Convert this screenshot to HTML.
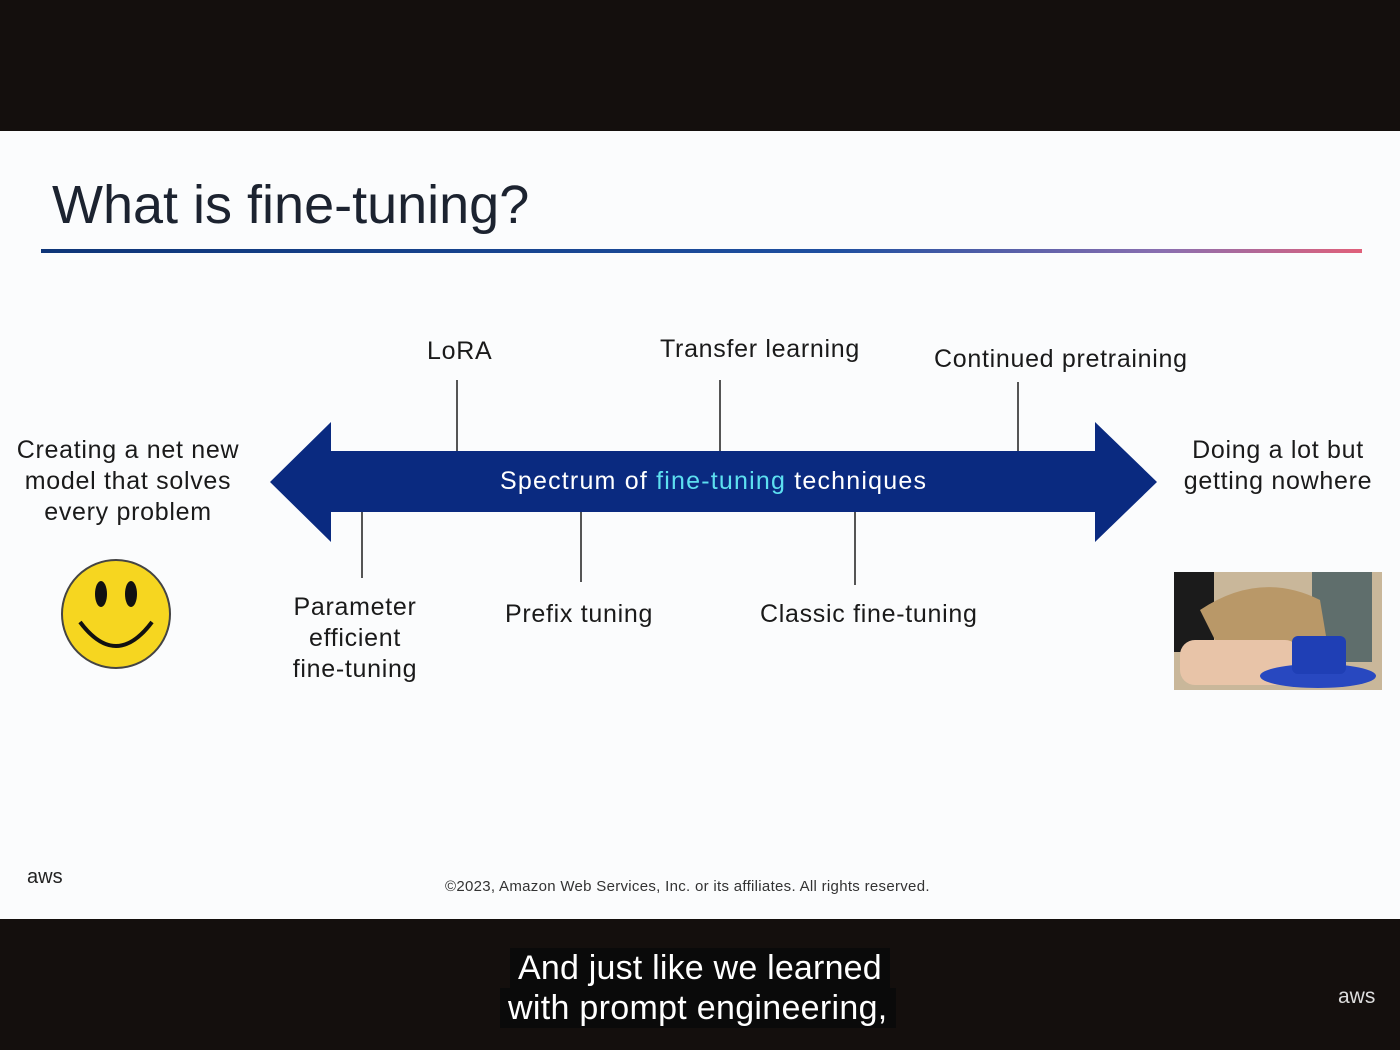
<!DOCTYPE html>
<html><head><meta charset="utf-8"><style>
html,body{margin:0;padding:0;width:1400px;height:1050px;background:#140f0d;overflow:hidden;font-family:"Liberation Sans","DejaVu Sans",sans-serif}
.slide{position:absolute;left:0;top:131px;width:1400px;height:788px;background:#fbfcfd}
.t{position:absolute;color:#1a1a1a;font-size:25px;text-align:center;line-height:31px;white-space:nowrap;letter-spacing:0.7px}
</style></head><body>
<div class="slide"></div>
<div style="position:absolute;left:52px;top:174px;font-size:54px;color:#1c2330">What is fine-tuning?</div>
<div style="position:absolute;left:41px;top:249px;width:1321px;height:4px;background:linear-gradient(90deg,#0e3578 0%,#1e4fa0 60%,#8a6fb0 85%,#e0607a 100%)"></div>
<svg width="1400" height="1050" style="position:absolute;left:0;top:0">
<polygon points="270,482 331,422 331,451 1095,451 1095,422 1157,482 1095,542 1095,512 331,512 331,542" fill="#0a2a80"/>
<g stroke="#555" stroke-width="2">
<line x1="457" y1="380" x2="457" y2="451"/><line x1="720" y1="380" x2="720" y2="451"/><line x1="1018" y1="382" x2="1018" y2="451"/>
<line x1="362" y1="512" x2="362" y2="578"/><line x1="581" y1="512" x2="581" y2="582"/><line x1="855" y1="512" x2="855" y2="585"/>
</g>
<circle cx="116" cy="614" r="54" fill="#f6d620" stroke="#444" stroke-width="2"/>
<ellipse cx="101" cy="594" rx="6" ry="13" fill="#111"/><ellipse cx="131" cy="594" rx="6" ry="13" fill="#111"/>
<path d="M80 622 Q116 670 152 622" stroke="#111" stroke-width="4" fill="none"/>
<rect x="1174" y="572" width="208" height="118" fill="#c9b79a"/>
<rect x="1174" y="572" width="40" height="80" fill="#1b1b1b"/>
<rect x="1312" y="572" width="60" height="90" fill="#5f6e6c"/>
<path d="M1200 610 Q1260 570 1320 600 L1330 660 L1220 650 Z" fill="#b99868"/>
<rect x="1180" y="640" width="120" height="45" rx="15" fill="#e8c4a8"/>
<ellipse cx="1318" cy="676" rx="58" ry="12" fill="#2848c0"/>
<rect x="1292" y="636" width="54" height="38" rx="6" fill="#1f3fb5"/>
</svg>
<div class="t" style="left:500px;top:466px;color:#fff;font-size:25px;letter-spacing:1.2px">Spectrum of <span style="color:#5de0f0">fine-tuning</span> techniques</div>
<div class="t" style="left:427px;top:336px">LoRA</div>
<div class="t" style="left:660px;top:334px">Transfer learning</div>
<div class="t" style="left:934px;top:344px">Continued pretraining</div>
<div class="t" style="left:8px;top:435px;width:240px">Creating a net new<br>model that solves<br>every problem</div>
<div class="t" style="left:1172px;top:435px;width:212px">Doing a lot but<br>getting nowhere</div>
<div class="t" style="left:275px;top:592px;width:160px">Parameter<br>efficient<br>fine-tuning</div>
<div class="t" style="left:505px;top:599px">Prefix tuning</div>
<div class="t" style="left:760px;top:599px">Classic fine-tuning</div>
<div style="position:absolute;left:27px;top:866px;font-size:20px;color:#222">aws</div>
<div style="position:absolute;left:445px;top:878px;font-size:15px;color:#333;letter-spacing:0.3px">©2023, Amazon Web Services, Inc. or its affiliates. All rights reserved.</div>
<div style="position:absolute;left:510px;top:948px;background:#0a0a0a;color:#fff;font-size:34px;padding:0 8px;line-height:40px;letter-spacing:0.2px">And just like we learned</div>
<div style="position:absolute;left:500px;top:988px;background:#0a0a0a;color:#fff;font-size:34px;padding:0 8px;line-height:40px;letter-spacing:0.3px">with prompt engineering,</div>
<div style="position:absolute;left:1338px;top:985px;font-size:21px;color:#ddd">aws</div>
</body></html>
